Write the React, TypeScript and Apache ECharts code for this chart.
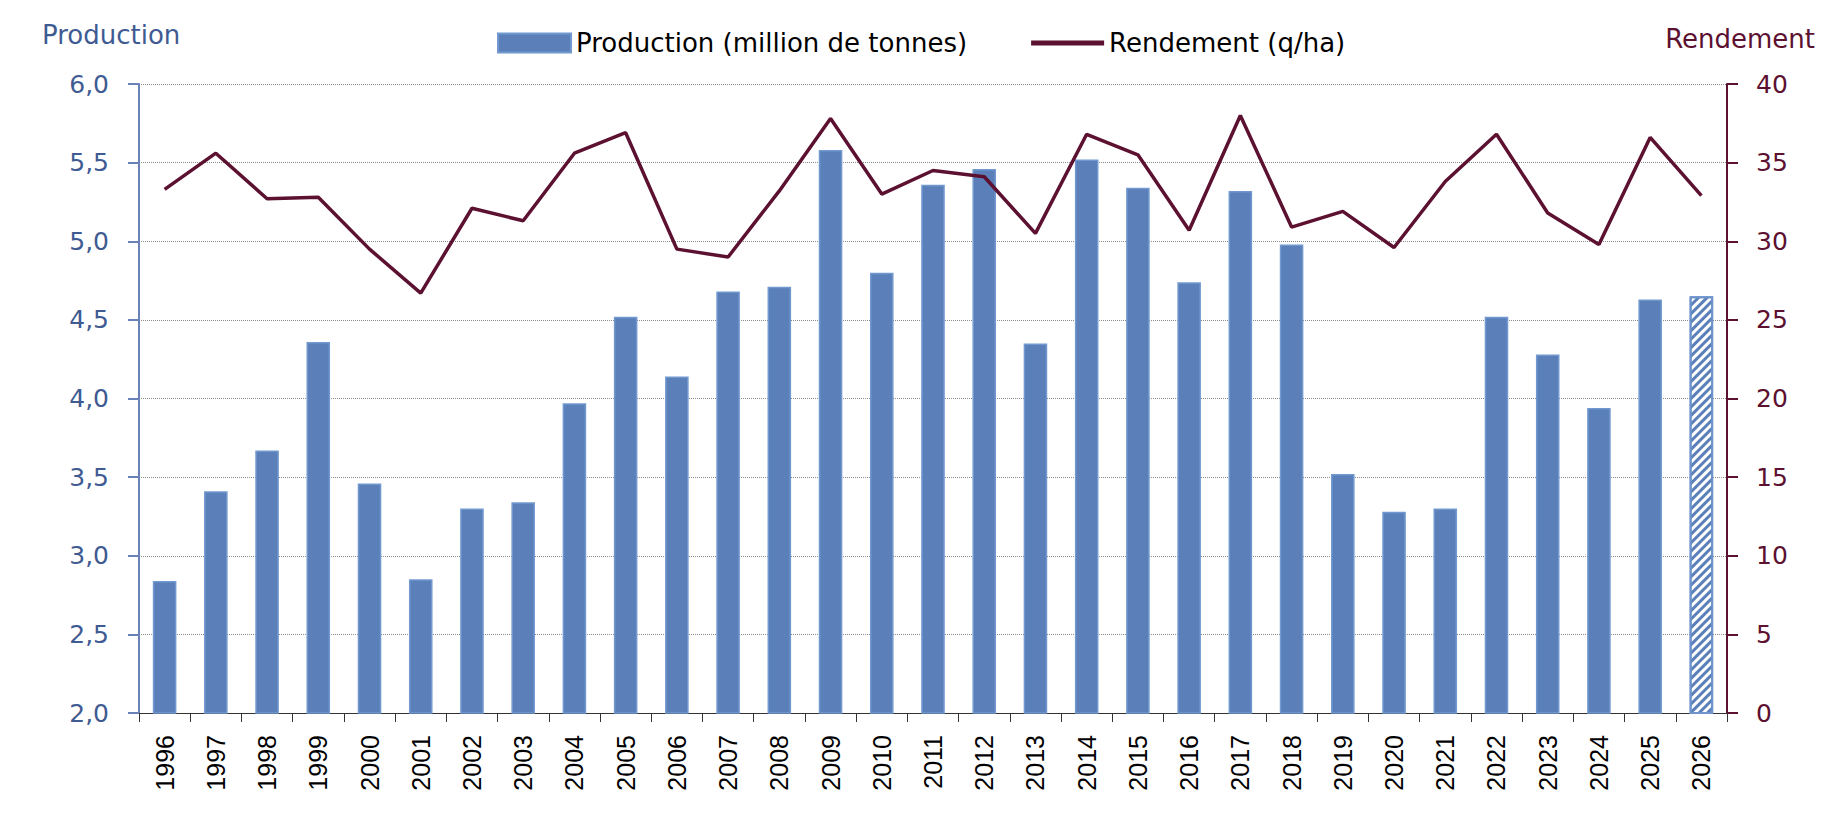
import React, { useEffect, useRef } from "react";
import * as echarts from "echarts";

// Campaign years on the x axis
const years = [
  "1996", "1997", "1998", "1999", "2000", "2001", "2002", "2003", "2004", "2005",
  "2006", "2007", "2008", "2009", "2010", "2011", "2012", "2013", "2014", "2015",
  "2016", "2017", "2018", "2019", "2020", "2021", "2022", "2023", "2024", "2025",
  "2026",
];

// Production, million tonnes (last year is a forecast)
const production = [
  2.84, 3.41, 3.67, 4.36, 3.46, 2.85, 3.30, 3.34, 3.97, 4.52,
  4.14, 4.68, 4.71, 5.58, 4.80, 5.36, 5.46, 4.35, 5.52, 5.34,
  4.74, 5.32, 4.98, 3.52, 3.28, 3.30, 4.52, 4.28, 3.94, 4.63,
  4.65,
];

// Yield, quintals per hectare
const rendement = [
  33.3, 35.6, 32.7, 32.8, 29.5, 26.7, 32.1, 31.3, 35.6, 36.9,
  29.5, 29.0, 33.2, 37.8, 33.0, 34.5, 34.1, 30.5, 36.8, 35.5,
  30.7, 38.0, 30.9, 31.9, 29.6, 33.8, 36.8, 31.8, 29.8, 36.6,
  32.9,
];

const forecastYears = ["2026"];

const BLUE = "#5b80b9";
const BLUE_EDGE = "#7199cf";
const BLUE_TEXT = "#3f5b92";
const MAROON = "#5c1131";
const TEXT_FONT = "DejaVu Sans";

export default function App() {
  const ref = useRef<HTMLDivElement>(null);

  useEffect(() => {
    if (!ref.current) return;
    const chart = echarts.init(ref.current, null, { renderer: "svg" });

    const barData = production.map((v, i) =>
      forecastYears.includes(years[i])
        ? {
            value: v,
            itemStyle: {
              color: "#ffffff",
              borderColor: "#6e94cb",
              borderWidth: 2,
              decal: {
                symbol: "rect",
                symbolSize: 1,
                dashArrayX: [1, 0],
                dashArrayY: [3, 3],
                rotation: -Math.PI / 4,
                color: BLUE,
              },
            },
          }
        : v
    );

    chart.setOption({
      animation: false,
      backgroundColor: "#ffffff",
      title: [
        {
          text: "Production",
          left: 37,
          top: 17,
          textStyle: { color: BLUE_TEXT, fontFamily: TEXT_FONT, fontSize: 26, fontWeight: "normal" },
        },
        {
          text: "Rendement",
          right: 26,
          top: 21,
          textStyle: { color: MAROON, fontFamily: TEXT_FONT, fontSize: 26, fontWeight: "normal" },
        },
      ],
      legend: {
        top: 30,
        left: 497,
        padding: 0,
        itemWidth: 73,
        itemHeight: 19,
        itemGap: 64,
        symbolKeepAspect: true,
        textStyle: { color: "#000000", fontFamily: TEXT_FONT, fontSize: 26 },
        data: [
          { name: "Production (million de tonnes)", icon: "rect" },
          { name: "Rendement (q/ha)", icon: "path://M0,0 L73,0 L73,5 L0,5 Z" },
        ],
      },
      grid: { left: 139, right: 119, top: 84, bottom: 109, containLabel: false },
      xAxis: {
        type: "category",
        data: years,
        axisLine: { lineStyle: { color: "#333333", width: 1 } },
        axisTick: { show: true, length: 9, lineStyle: { color: "#333333" } },
        axisLabel: {
          rotate: 90,
          interval: 0,
          margin: 22,
          color: "#000000",
          fontFamily: "Liberation Sans",
          fontSize: 25,
        },
      },
      yAxis: [
        {
          type: "value",
          min: 2,
          max: 6,
          interval: 0.5,
          position: "left",
          axisLine: { show: true, lineStyle: { color: "#6a82b8", width: 2 } },
          axisTick: { show: true, length: 11, lineStyle: { color: "#6a82b8", width: 2 } },
          axisLabel: {
            color: BLUE_TEXT,
            fontFamily: "DejaVu Sans",
            fontSize: 25,
            margin: 30,
            formatter: (v: number) => v.toFixed(1).replace(".", ","),
          },
          splitLine: { show: true, lineStyle: { color: "#8c8c8c", type: "dotted", width: 1 } },
        },
        {
          type: "value",
          min: 0,
          max: 40,
          interval: 5,
          position: "right",
          axisLine: { show: true, lineStyle: { color: MAROON, width: 2 } },
          axisTick: { show: true, length: 11, lineStyle: { color: MAROON, width: 2 } },
          axisLabel: { color: MAROON, fontFamily: "DejaVu Sans", fontSize: 25, margin: 29 },
          splitLine: { show: false },
        },
      ],
      series: [
        {
          name: "Production (million de tonnes)",
          type: "bar",
          yAxisIndex: 0,
          barWidth: "46%",
          data: barData,
          itemStyle: { color: BLUE, borderColor: BLUE_EDGE, borderWidth: 1.5 },
        },
        {
          name: "Rendement (q/ha)",
          type: "line",
          yAxisIndex: 1,
          data: rendement,
          symbol: "none",
          lineStyle: { color: MAROON, width: 3.5 },
          itemStyle: { color: MAROON },
        },
      ],
    });

    return () => chart.dispose();
  }, []);

  return (
    <div
      ref={ref}
      style={{ position: "fixed", left: 0, top: 0, width: 1846, height: 822, background: "#fff" }}
    />
  );
}
